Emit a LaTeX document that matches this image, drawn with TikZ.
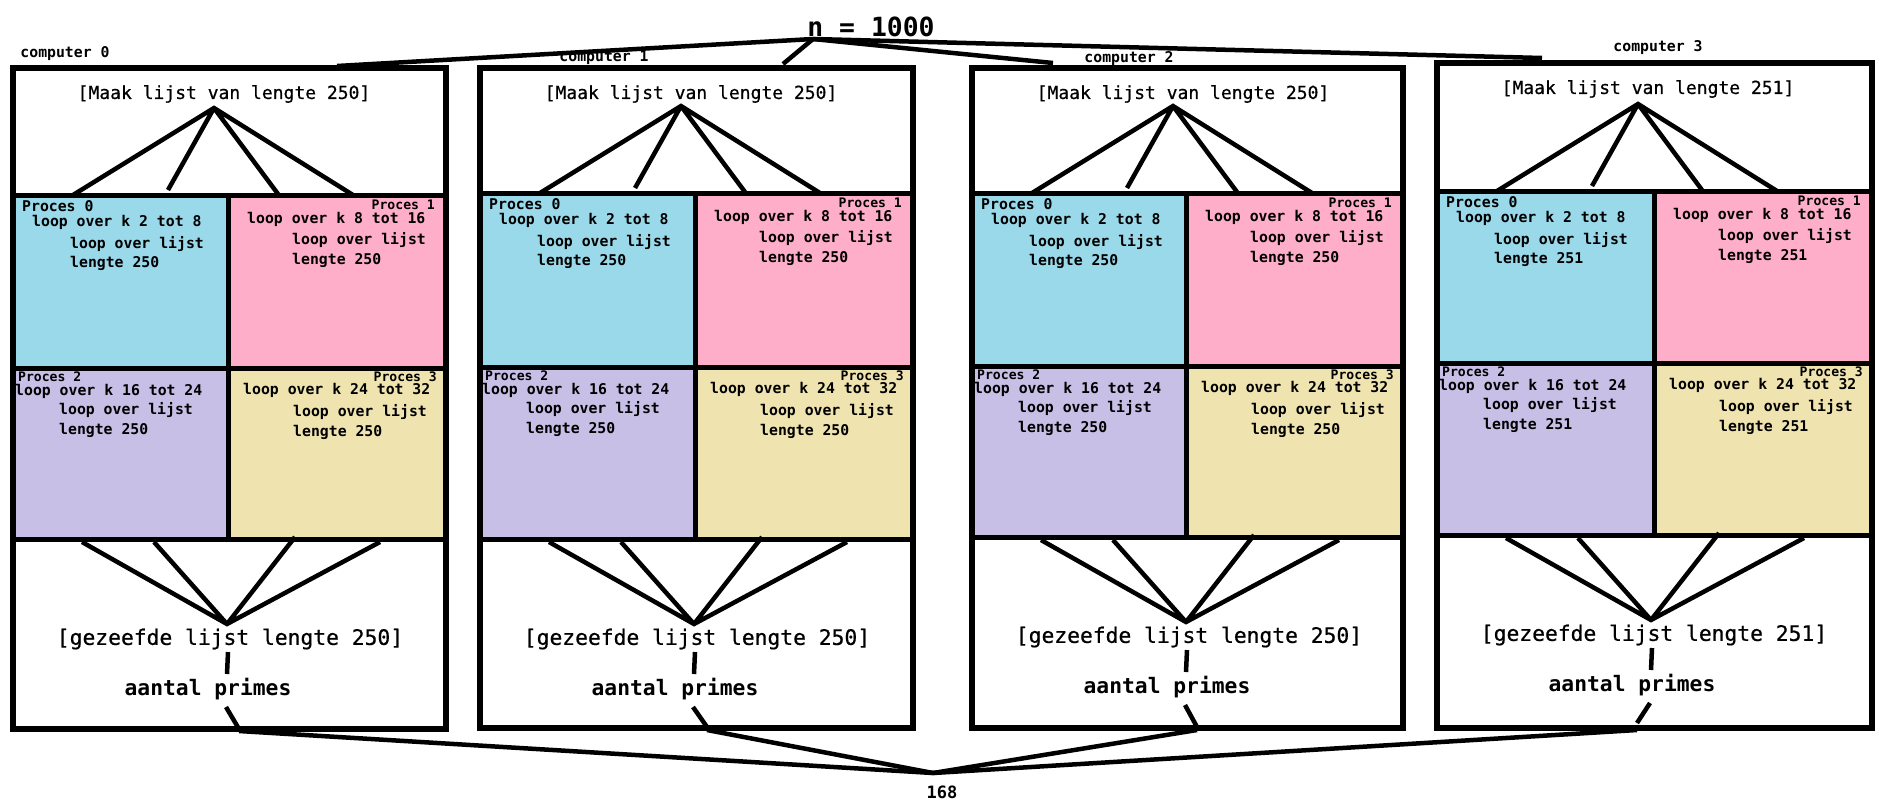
\documentclass[tikz,border=0pt]{standalone}
\usepackage{fontspec}
\newfontfamily\cmono{DejaVu Sans Mono}
\newfontfamily\cmonomed[FakeBold=0.6]{DejaVu Sans Mono}
\definecolor{cellA}{RGB}{153,217,234}
\definecolor{cellB}{RGB}{255,174,201}
\definecolor{cellC}{RGB}{200,191,231}
\definecolor{cellD}{RGB}{239,228,176}
\tikzset{
  boxline/.style={line width=5.5pt},
  innerline/.style={line width=5pt},
  fan/.style={line width=4.5pt},
  conn/.style={line width=4.5pt},
  maaktxt/.style={inner sep=0pt, font=\cmonomed\fontsize{18}{20}\selectfont},
  geztxt/.style={inner sep=0pt, font=\cmonomed\fontsize{21.3}{24}\selectfont},
  aanttxt/.style={inner sep=0pt, font=\cmono\bfseries\fontsize{21.3}{24}\selectfont},
  celltxt/.style={inner sep=0pt, font=\cmono\bfseries\fontsize{14.8}{17}\selectfont},
  proctxt/.style={inner sep=0pt, font=\cmono\bfseries\fontsize{14.8}{17}\selectfont},
  procsmall/.style={inner sep=0pt, font=\cmono\bfseries\fontsize{13.1}{15}\selectfont},
  comptxt/.style={inner sep=0pt, font=\cmono\bfseries\fontsize{14.8}{17}\selectfont},
  bigtxt/.style={inner sep=0pt, font=\cmono\bfseries\fontsize{26.4}{30}\selectfont},
  sumtxt/.style={inner sep=0pt, font=\cmono\bfseries\fontsize{17}{20}\selectfont},
}
\begin{document}
\begin{tikzpicture}[x=1pt,y=-1pt]
\fill[white] (0,0) rectangle (1884,807);
\useasboundingbox (0,0) rectangle (1884,807);

\node[bigtxt] (n) at (871,27) {n = 1000};
\coordinate (napex) at (813,39);
\node[sumtxt] (sum) at (942,792) {168};
\coordinate (sapex) at (933,773);

\foreach \cid/\L/\R/\T/\Ma/\MV/\MH/\Bb/\B/\len/\cnum/\cx/\cy/\tx/\ty/\ex/\ey in {
  c0/13/446/68/195/228/368/539/729/250/0/65/54/337/66/239/729,
  c1/480/913/68/193/695/367/539/728/250/1/604/58/783/64/707/727,
  c2/972/1403/68/193/1186/366/537/728/250/2/1129/59/1053/63/1197/727,
  c3/1437/1872/63/191/1654/363/535/728/251/3/1658/48/1542/58/1637/723}{
  % coloured cells
  \fill[cellA] (\L,\Ma) rectangle (\MV,\MH);
  \fill[cellB] (\MV,\Ma) rectangle (\R,\MH);
  \fill[cellC] (\L,\MH) rectangle (\MV,\Bb);
  \fill[cellD] (\MV,\MH) rectangle (\R,\Bb);
  % cell texts
  \node[proctxt, anchor=base west] (\cid-h0) at ({\L+9},{\Ma+16}) {Proces 0};
  \node[celltxt, anchor=base west] (\cid-a0) at ({\L+19},{\Ma+31}) {loop over k 2 tot 8};
  \node[celltxt, anchor=base west] (\cid-b0) at ({\L+57},{\Ma+53}) {loop over lijst};
  \node[celltxt, anchor=base west] (\cid-c0) at ({\L+57},{\Ma+72}) {lengte \len};
  \node[procsmall, anchor=base east] (\cid-h1) at ({\R-11},{\Ma+14.5}) {Proces 1};
  \node[celltxt, anchor=base west] (\cid-a1) at ({\MV+19},{\Ma+28}) {loop over k 8 tot 16};
  \node[celltxt, anchor=base west] (\cid-b1) at ({\MV+64},{\Ma+49}) {loop over lijst};
  \node[celltxt, anchor=base west] (\cid-c1) at ({\MV+64},{\Ma+69}) {lengte \len};
  \node[procsmall, anchor=base west] (\cid-h2) at ({\L+5},{\MH+13.5}) {Proces 2};
  \node[celltxt, anchor=base west] (\cid-a2) at ({\L+2},{\MH+27}) {loop over k 16 tot 24};
  \node[celltxt, anchor=base west] (\cid-b2) at ({\L+46},{\MH+46}) {loop over lijst};
  \node[celltxt, anchor=base west] (\cid-c2) at ({\L+46},{\MH+66}) {lengte \len};
  \node[procsmall, anchor=base east] (\cid-h3) at ({\R-9},{\MH+13.5}) {Proces 3};
  \node[celltxt, anchor=base west] (\cid-a3) at ({\MV+15},{\MH+26}) {loop over k 24 tot 32};
  \node[celltxt, anchor=base west] (\cid-b3) at ({\MV+65},{\MH+48}) {loop over lijst};
  \node[celltxt, anchor=base west] (\cid-c3) at ({\MV+65},{\MH+68}) {lengte \len};
  % box lines
  \draw[innerline] (\L,\Ma) -- (\R,\Ma) (\L,\MH) -- (\R,\MH) (\L,\Bb) -- (\R,\Bb) (\MV,\Ma) -- (\MV,\Bb);
  \draw[boxline] (\L,\T) rectangle (\R,\B);
  % labels
  \node[comptxt] (\cid-name) at (\cx,\cy) {computer \cnum};
  \node[maaktxt] (\cid-maak) at ({\L+211},{\T+26}) {[Maak lijst van lengte \len]};
  \node[geztxt] (\cid-gez) at ({\L+217},{\Bb+100}) {[gezeefde lijst lengte \len]};
  \node[aanttxt] (\cid-aant) at ({\L+195},{\Bb+150}) {aantal primes};
  % top fan
  \coordinate (\cid-ta) at ({\L+201},{\Ma-87});
  \coordinate (\cid-t1) at ({\L+60},{\Ma});
  \coordinate (\cid-t2) at ({\L+155},{\Ma-5});
  \coordinate (\cid-t3) at ({\L+265},{\Ma-1});
  \coordinate (\cid-t4) at ({\L+340},{\Ma});
  \draw[fan] (\cid-t1) -- (\cid-ta) -- (\cid-t4) (\cid-ta) -- (\cid-t2) (\cid-ta) -- (\cid-t3);
  % bottom fan
  \coordinate (\cid-ba) at ({\L+214},{\Bb+85});
  \coordinate (\cid-u1) at ({\L+69},{\Bb+3});
  \coordinate (\cid-u2) at ({\L+141},{\Bb+3});
  \coordinate (\cid-u3) at ({\L+282},{\Bb-2});
  \coordinate (\cid-u4) at ({\L+367},{\Bb+3});
  \draw[fan] (\cid-u1) -- (\cid-ba) -- (\cid-u4) (\cid-ba) -- (\cid-u2) (\cid-ba) -- (\cid-u3);
  % gezeefde -> aantal
  \coordinate (\cid-g1) at ({\L+215},{\Bb+113});
  \coordinate (\cid-g2) at ({\L+214},{\Bb+135});
  \draw[fan] (\cid-g1) -- (\cid-g2);
  % aantal -> exit
  \coordinate (\cid-x1) at ({\L+213},{\Bb+168});
  \coordinate (\cid-x2) at (\ex,\ey);
  \draw[fan] (\cid-x1) -- (\cid-x2);
  \coordinate (\cid-x3) at (\ex,{\B+2});
  \draw[conn] (\cid-x3) -- (sapex);
  % top connector
  \coordinate (\cid-top) at (\tx,\ty);
  \draw[conn] (napex) -- (\cid-top);
}
\end{tikzpicture}
\end{document}
